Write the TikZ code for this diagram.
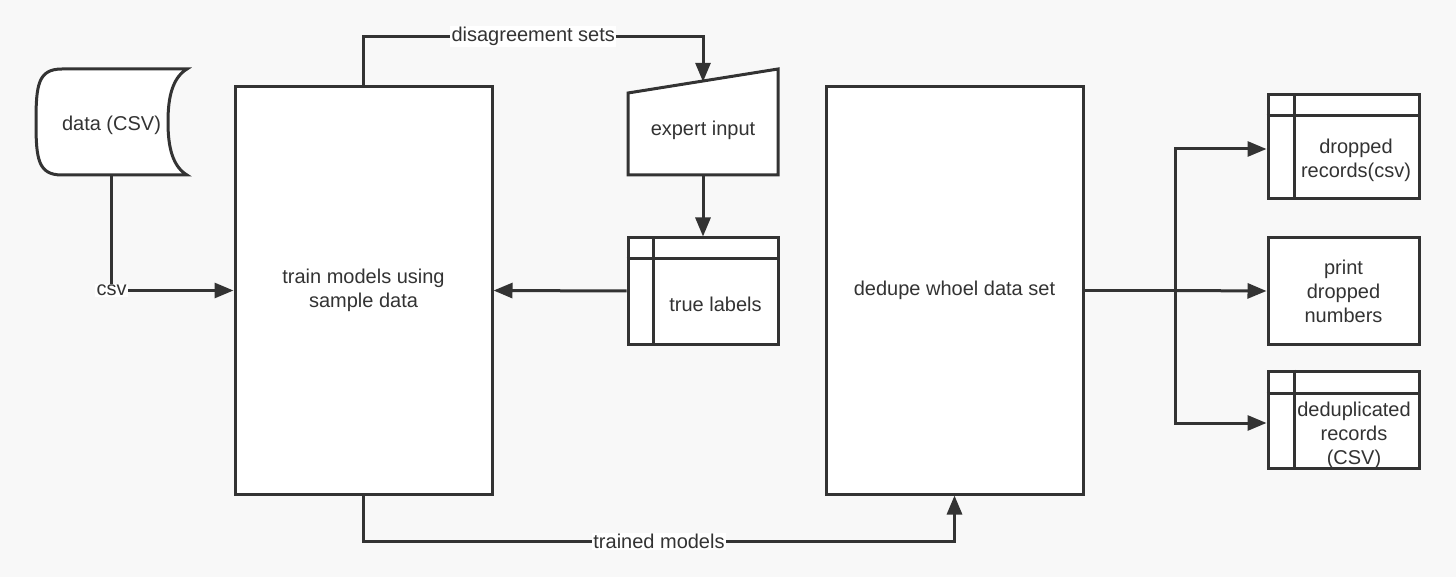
\documentclass[tikz,border=0pt]{standalone}
\usepackage{fontspec}
\setmainfont{Liberation Sans}
\usetikzlibrary{arrows.meta,backgrounds}
\definecolor{ln}{HTML}{333333}
\definecolor{bg}{HTML}{F8F8F8}
\begin{document}
\begin{tikzpicture}[x=1pt,y=-1pt,
  every node/.style={font=\fontsize{20}{24}\selectfont, text=ln},
  box/.style={draw=ln, line width=3pt, fill=white, align=center, inner sep=0pt},
  plain/.style={align=center, inner sep=0pt},
  conn/.style={draw=ln, line width=3pt},
  arr/.style={conn, -{Triangle[length=19pt,width=15pt]}},
  lbl/.style={fill=white, inner sep=1.5pt}]
\useasboundingbox (0,0) rectangle (1456,577);

% nodes
\node[plain, minimum width=151pt, minimum height=100pt] (data) at (111.5,125) {data (CSV)};
\node[box, minimum width=257pt, minimum height=407pt] (train) at (363.5,290.5) {train models using\\sample data};
\node[plain, minimum width=151pt, minimum height=90pt] (expert) at (703,130) {expert input};
\node[box, minimum width=150pt, minimum height=106pt] (tl) at (703,291) {};
\node[plain] (tltext) at (715.5,304) {true labels};
\node[box, minimum width=257pt, minimum height=407pt] (dedupe) at (954.5,290.5) {dedupe whoel data set};
\node[box, minimum width=151pt, minimum height=104pt] (dropped) at (1343.5,147) {};
\node[plain] (droppedtext) at (1356,160) {dropped\\records(csv)};
\node[box, minimum width=151pt, minimum height=106pt] (print) at (1343.5,291) {print\\dropped\\numbers};
\node[box, minimum width=151pt, minimum height=97pt] (dedup) at (1343.5,419.5) {};
\node[plain] (deduptext) at (1354,435) {deduplicated\\records\\(CSV)};

% internal storage lines
\draw[conn] (tl.north west -| 653,0) -- (tl.south west -| 653,0);
\draw[conn] (tl.west |- 0,259) -- (tl.east |- 0,259);
\draw[conn] (dropped.north west -| 1294,0) -- (dropped.south west -| 1294,0);
\draw[conn] (dropped.west |- 0,116) -- (dropped.east |- 0,116);
\draw[conn] (dedup.north west -| 1294,0) -- (dedup.south west -| 1294,0);
\draw[conn] (dedup.west |- 0,393) -- (dedup.east |- 0,393);

% background shapes
\begin{scope}[on background layer]
\fill[bg] (0,0) rectangle (1456,577);
\draw[conn, fill=white] (187,69) -- (62,69)
  .. controls (38,69) and (36,85) .. (36,122)
  .. controls (36,159) and (38,175) .. (62,175)
  -- (187,175)
  .. controls (170,165) and (168,140) .. (168,122)
  .. controls (168,104) and (170,79) .. (187,69) -- cycle;
\draw[conn, fill=white] (703,175) -| (778,69) -- (628,93) |- (703,175) -- cycle;
\end{scope}

% connectors
\draw[arr] (data.south) |- node[lbl, pos=0.5] {csv} (train.west);
\draw[arr] (train.north) -- ++(0,-49) -| node[lbl, pos=0.25] {disagreement sets} ([yshift=3pt]expert.north);
\draw[arr] (expert.south) -- (tl.north);
\draw[arr] (tl.west) -- (train.east);
\draw[arr] (train.south) -- ++(0,46) -| node[lbl, pos=0.25] {trained models} (dedupe.south);
\coordinate (br) at (1175,290.5);
\draw[conn] (dedupe.east) -- (br);
\draw[arr] (br) |- ([yshift=-2pt]dropped.west);
\draw[arr] (br) -- (print.west);
\draw[arr] (br) |- ([yshift=-3.5pt]dedup.west);
\end{tikzpicture}
\end{document}
